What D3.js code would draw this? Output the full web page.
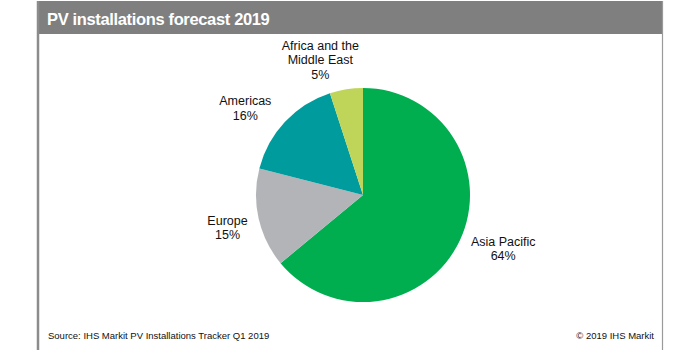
<!DOCTYPE html>
<html><head><meta charset="utf-8">
<script src="https://cdn.jsdelivr.net/npm/d3@7"></script>
<style>body{margin:0;background:#fff}svg{display:block}text{font-family:"Liberation Sans",Arial,sans-serif}</style>
</head><body>
<svg id="c" width="700" height="350"></svg>
<script>
const categories = ["Asia Pacific", "Europe", "Americas", "Africa and the Middle East"];
const labelLines = [["Asia Pacific"], ["Europe"], ["Americas"], ["Africa and the", "Middle East"]];
const values = [64, 15, 16, 5];
const colors = ["#00AE4F", "#B3B4B8", "#009B9C", "#BFD55A"];
const title = "PV installations forecast 2019";
const source = "Source: IHS Markit PV Installations Tracker Q1 2019";
const copyright = "\u00A9 2019 IHS Markit";

const labelNudge = [[9, -8], [6, 1], [-12, 12], [-20, 8]];

const svg = d3.select("#c");
// frame
svg.append("rect").attr("x", 37).attr("y", 1).attr("width", 626).attr("height", 33).attr("fill", "#7F7F7F");
svg.append("line").attr("x1", 38).attr("x2", 38).attr("y1", 1).attr("y2", 350).attr("stroke", "#8c8c8c").attr("stroke-width", 2.5);
svg.append("line").attr("x1", 662.5).attr("x2", 662.5).attr("y1", 1).attr("y2", 350).attr("stroke", "#9a9a9a").attr("stroke-width", 1.2);
svg.append("text").attr("x", 47).attr("y", 25).attr("fill", "#fff").attr("font-weight", "bold")
  .attr("font-size", 16.5).attr("letter-spacing", -0.35).text(title);

const cx = 363, cy = 195, r = 107, lr = 145;
const pie = d3.pie().sort(null).value(d => d)(values);
const arc = d3.arc().innerRadius(0).outerRadius(r);
const larc = d3.arc().innerRadius(lr).outerRadius(lr);
const g = svg.append("g").attr("transform", `translate(${cx},${cy})`);
g.selectAll("path").data(pie).join("path").attr("d", arc).attr("fill", (d, i) => colors[i]);

const lh = 14.5;
pie.forEach((d, i) => {
  const [x, y] = larc.centroid(d);
  const lines = labelLines[i].concat([values[i] + "%"]);
  const t = g.append("text").attr("text-anchor", "middle").attr("font-size", 12.5).attr("fill", "#111");
  lines.forEach((s, j) => {
    t.append("tspan").attr("x", x + labelNudge[i][0])
      .attr("y", y + labelNudge[i][1] - (lines.length - 1) * lh / 2 + j * lh + 4.5).text(s);
  });
});

svg.append("text").attr("x", 48).attr("y", 339).attr("font-size", 9.5).attr("fill", "#111").text(source);
svg.append("text").attr("x", 654).attr("y", 339).attr("text-anchor", "end").attr("font-size", 9.5).attr("fill", "#111").text(copyright);
</script>
</body></html>
